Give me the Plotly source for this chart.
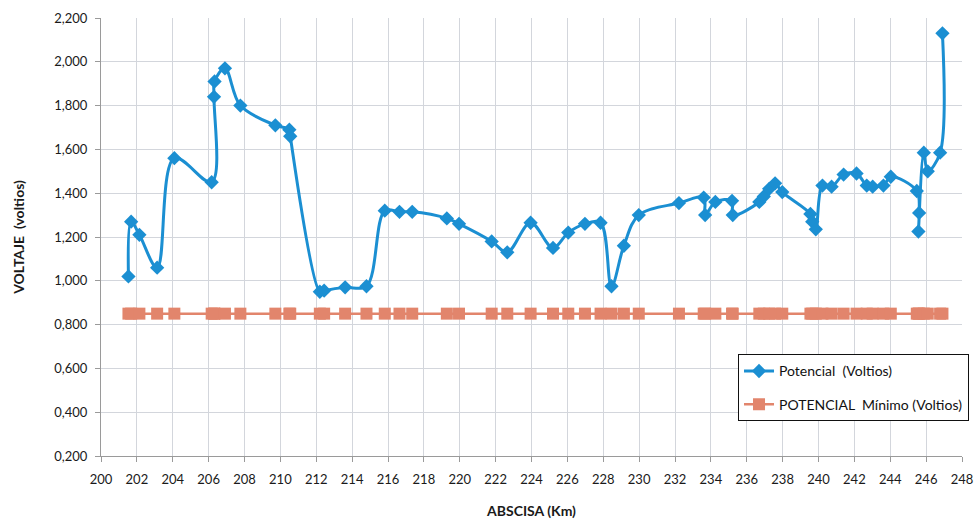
import plotly.graph_objects as go

# Abscisa (km) de cada punto de medición y potencial medido (V)
abscisa_km = [
    201.53, 201.68, 202.14, 203.13, 204.09, 206.17, 206.30, 206.33, 206.91, 207.77,
    209.72, 210.50, 210.55, 212.20, 212.44, 213.61, 214.80, 215.82, 216.64, 217.35,
    219.28, 219.96, 221.78, 222.65, 223.95, 225.20, 226.05, 226.98, 227.85, 228.46,
    229.15, 229.98, 232.22, 233.60, 233.68, 234.25, 235.18, 235.22, 236.70, 236.95,
    237.25, 237.58, 237.98, 239.55, 239.65, 239.85, 240.22, 240.73, 241.40, 242.12,
    242.69, 243.02, 243.62, 244.03, 245.48, 245.61, 245.57, 245.87, 246.09, 246.78,
    246.91,
]
potencial = [
    1.02, 1.27, 1.21, 1.06, 1.56, 1.45, 1.84, 1.91, 1.97, 1.80,
    1.71, 1.69, 1.66, 0.95, 0.955, 0.97, 0.975, 1.32, 1.315, 1.315,
    1.285, 1.26, 1.18, 1.13, 1.265, 1.15, 1.22, 1.26, 1.265, 0.975,
    1.16, 1.30, 1.355, 1.38, 1.30, 1.36, 1.365, 1.30, 1.36, 1.385,
    1.42, 1.445, 1.405, 1.305, 1.27, 1.235, 1.435, 1.43, 1.485, 1.49,
    1.435, 1.43, 1.435, 1.475, 1.41, 1.31, 1.225, 1.585, 1.50, 1.585,
    2.13,
]
potencial_minimo = [
    0.85, 0.85, 0.85, 0.85, 0.85, 0.85, 0.85, 0.85, 0.85, 0.85,
    0.85, 0.85, 0.85, 0.85, 0.85, 0.85, 0.85, 0.85, 0.85, 0.85,
    0.85, 0.85, 0.85, 0.85, 0.85, 0.85, 0.85, 0.85, 0.85, 0.85,
    0.85, 0.85, 0.85, 0.85, 0.85, 0.85, 0.85, 0.85, 0.85, 0.85,
    0.85, 0.85, 0.85, 0.85, 0.85, 0.85, 0.85, 0.85, 0.85, 0.85,
    0.85, 0.85, 0.85, 0.85, 0.85, 0.85, 0.85, 0.85, 0.85, 0.85,
    0.85,
]

AZUL = "#1b8fd2"
SALMON = "#e2856c"
FUENTE = "Lato"

fig = go.Figure()

fig.add_trace(go.Scatter(
    x=abscisa_km, y=potencial,
    name="Potencial  (Voltios)",
    mode="lines+markers",
    line=dict(color=AZUL, width=3, shape="spline", smoothing=1.0),
    marker=dict(symbol="diamond", size=11, color=AZUL),
    legendgroup="a",
))

fig.add_trace(go.Scatter(
    x=abscisa_km, y=potencial_minimo,
    name="POTENCIAL  Mínimo (Voltios)",
    mode="lines+markers",
    line=dict(color=SALMON, width=2.5),
    marker=dict(symbol="square", size=12, color=SALMON),
    legendgroup="b",
))

fig.update_layout(
    width=980, height=522,
    margin=dict(l=101, r=17, t=18, b=66),
    paper_bgcolor="white", plot_bgcolor="white",
    separators=",.",
    font=dict(family=FUENTE, size=13, color="#1a1a1a"),
    showlegend=True,
    legend=dict(
        x=0.739, y=0.232, xanchor="left", yanchor="top",
        bgcolor="white", bordercolor="#111111", borderwidth=1,
        font=dict(family=FUENTE, size=14, color="#111111"),
        traceorder="grouped", tracegroupgap=12,
    ),
    xaxis=dict(
        range=[200, 248], dtick=2, tick0=200, tickformat="d",
        automargin=False,
        showgrid=True, gridcolor="#d3d6dc", gridwidth=1,
        showline=True, linecolor="#9a9a9a", linewidth=1,
        ticks="outside", ticklen=5, tickcolor="#9a9a9a",
        ticklabelstandoff=6,
        zeroline=False,
        title=dict(text="<b>ABSCISA (Km)</b>", font=dict(family=FUENTE, size=14, color="#1a1a1a"), standoff=20),
    ),
    yaxis=dict(
        range=[0.2, 2.2], dtick=0.2, tick0=0.2, tickformat=".3f",
        automargin=False,
        showgrid=True, gridcolor="#d3d6dc", gridwidth=1,
        showline=True, linecolor="#9a9a9a", linewidth=1,
        ticks="outside", ticklen=5, tickcolor="#9a9a9a",
        ticklabelstandoff=5,
        zeroline=False,
        title=dict(text="<b>VOLTAJE  (voltios)</b>", font=dict(family=FUENTE, size=14, color="#1a1a1a"), standoff=26),
    ),
)

fig.write_html("out.html")
